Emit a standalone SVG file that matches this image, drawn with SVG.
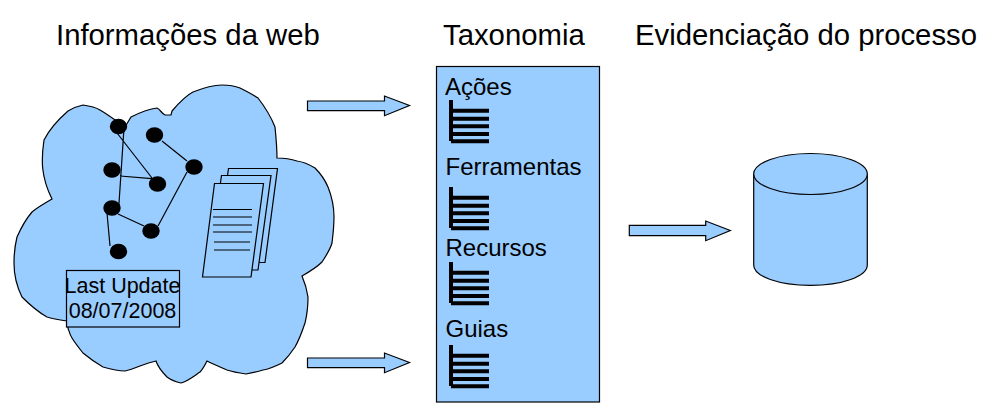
<svg xmlns="http://www.w3.org/2000/svg" xmlns:xlink="http://www.w3.org/1999/xlink" width="997" height="413" viewBox="0 0 997 413">
<style>
text{font-family:"Liberation Sans",Arial,sans-serif;fill:#000}
.s{fill:#99ccff;stroke:#000;stroke-width:1.2;stroke-linejoin:miter}
.title{font-size:29.3px}
.item{font-size:24px}
.lab{font-size:21.5px;text-anchor:middle}
.e{stroke:#000;stroke-width:1.2;fill:none}
.n{fill:#000}
.d{fill:#99ccff;stroke:#000;stroke-width:1.2}
.t{stroke:#000;stroke-width:4;fill:none}
</style>
<defs>
<g id="tree"><path class="t" d="M451 100V141M451 110.7H489M451 118.7H489M451 126.3H489M451 134H489M451 141.3H489"/></g>
</defs>
<rect width="997" height="413" fill="#fff"/>
<text class="title" x="56" y="45">Informações da web</text>
<text class="title" x="443" y="45">Taxonomia</text>
<text class="title" x="635" y="45">Evidenciação do processo</text>
<g id="cloud">
<path class="s" d="M52 199C41 177 41 160 44 140C50 128 60 118 68 111C73 108 78 106 83 105C90 106 95 107 100 110C107 114 118 122 125 127L131 117C137 114 147 109 157 108C160 109 162 114 165 115H171L172 111C178 104 185 96 193 92C203 88 212 85 222 85C230 85 235 86 240 88C246 91 252 94 258 98C265 107 271 117 275 127C276 137 277 148 277 158C285 158 291 159 297 161C304 162 310 165 315 168C321 174 325 180 328 187C332 197 334 207 334 217C334 226 333 235 332 243C330 250 326 256 322 262C316 268 309 272 302 276C305 283 307 290 308 297C308 306 307 315 305 323C302 332 299 340 295 347C291 353 287 358 282 363C276 366 270 369 263 370C257 372 252 373 246 374C239 373 233 372 227 370C220 367 213 364 207 361C205 365 203 369 200 372C194 376 188 381 181 383C176 382 171 380 167 377C162 372 158 367 156 361C151 362 145 364 140 366C135 368 130 370 125 371C117 371 110 369 103 367C96 363 89 358 83 353C79 348 75 343 72 338C70 335 69 331 68 328L67 321C60 320 53 319 47 317C38 312 30 305 22 297C17 287 14 275 14 263C14 254 15 245 17 237C21 228 26 219 32 212C38 207 45 203 52 199Z"/>
</g>
<g id="graph-edges">
<path class="e" d="M124 128L118.7 208M117 133L152 178M120 176L152 178.7M162 141L187 161M187 172L158 226M118 214L144 226M107 213L110 246"/>
</g>
<g id="graph-nodes">
<ellipse class="n" cx="118.5" cy="126.5" rx="8.7" ry="7.7"/>
<ellipse class="n" cx="154.5" cy="135" rx="8.7" ry="7.7"/>
<ellipse class="n" cx="112" cy="170" rx="8.7" ry="7.7"/>
<ellipse class="n" cx="157.5" cy="184" rx="8.7" ry="7.7"/>
<ellipse class="n" cx="194" cy="167" rx="8.7" ry="7.7"/>
<ellipse class="n" cx="112" cy="208" rx="8.7" ry="7.7"/>
<ellipse class="n" cx="151" cy="231" rx="8.7" ry="7.7"/>
<ellipse class="n" cx="118.5" cy="251.5" rx="8.7" ry="7.7"/>
</g>
<g id="documents">
<path class="d" d="M228.5 168.5H277.5L265 262.5H215Z"/>
<path class="d" d="M221.5 175.500H271L258 270H208Z"/>
<path class="d" d="M214.500 183.500H263.500L251 277H202.500Z"/>
<path class="e" d="M213 209.500H252M213 217H252M213 225H252M213 232H252M214 242H250M214 250H250"/>
</g>
<g id="last-update">
<rect class="s" x="66.500" y="270.500" width="113" height="56.500"/>
<text class="lab" x="122.500" y="293">Last Update</text>
<text class="lab" x="122.500" y="318">08/07/2008</text>
</g>
<g id="taxonomia">
<rect class="s" x="436.500" y="66.500" width="163" height="335.500"/>
<text class="item" x="445" y="95">Ações</text>
<use xlink:href="#tree" href="#tree"/>
<text class="item" x="445.500" y="175">Ferramentas</text>
<use xlink:href="#tree" href="#tree" y="87"/>
<text class="item" x="445.500" y="256">Recursos</text>
<use xlink:href="#tree" href="#tree" y="162"/>
<text class="item" x="445.500" y="337">Guias</text>
<use xlink:href="#tree" href="#tree" y="245"/>
</g>
<g id="cylinder">
<path class="s" d="M753.700 174V265C753.700 276.500 779 285.300 810.500 285.300S867.300 276.500 867.300 265V174"/>
<ellipse class="s" cx="810.500" cy="174" rx="56.800" ry="20.500"/>
</g>
<g id="connectors">
<path class="s" d="M307.500 101H384.500V96L409.500 105.500L384.500 115.700V110.700H307.500Z"/>
<path class="s" d="M307.500 358H384.500V353L409.500 362.500L384.500 372.700V367.700H307.500Z"/>
<path class="s" d="M629.300 225.300H705.700V221L730.300 230.500L705.700 240.700V235.700H629.300Z"/>
</g>
</svg>
